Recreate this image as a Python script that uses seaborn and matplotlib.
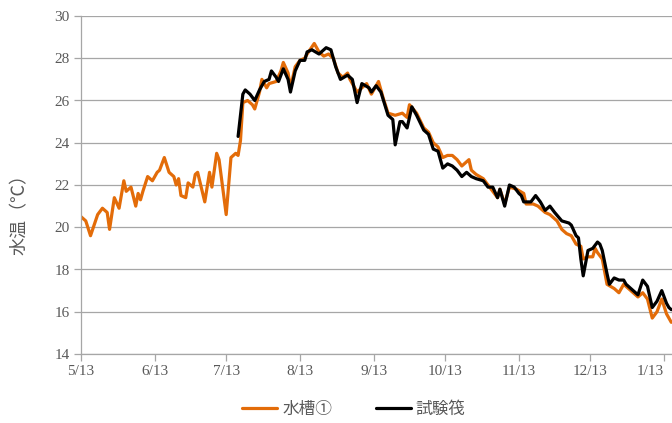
import matplotlib
matplotlib.use("Agg")
import matplotlib.pyplot as plt
import seaborn as sns
import pandas as pd
from matplotlib.lines import Line2D

# Days counted from 5/13
tank_days = [0, 2, 4, 7, 9, 11, 12, 14, 16, 18, 19, 21, 23, 24, 25, 26, 28, 30, 32, 33,
             35, 37, 39, 40, 41, 42, 44, 45, 47, 48, 49, 52, 54, 55, 57, 58, 61, 63, 65, 66,
             67, 68, 70, 72, 73, 75, 76, 78, 79, 82, 84, 85, 87, 88, 90, 92, 94, 95, 98, 100,
             102, 104, 106, 108, 110, 112, 113, 116, 118, 120, 122, 125, 127, 129, 132, 135, 137, 138, 141, 144,
             146, 148, 150, 152, 154, 156, 158, 160, 163, 164, 166, 169, 171, 173, 175, 176, 178, 180, 183, 186,
             187, 190, 192, 195, 197, 200, 202, 204, 206, 208, 210, 211, 213, 215, 216, 217, 219, 221, 224, 226,
             228, 230, 232, 234, 236, 238, 240, 242, 244, 246, 248]
tank_temp = [20.5, 20.3, 19.6, 20.6, 20.9, 20.7, 19.9, 21.4, 20.9, 22.2, 21.7, 21.9, 21.0, 21.6, 21.3, 21.7, 22.4, 22.2, 22.6, 22.7,
             23.3, 22.6, 22.4, 22.0, 22.3, 21.5, 21.4, 22.1, 21.9, 22.5, 22.6, 21.2, 22.6, 21.9, 23.5, 23.2, 20.6, 23.3, 23.5, 23.4,
             24.1, 25.9, 26.0, 25.8, 25.6, 26.4, 27.0, 26.6, 26.8, 26.9, 27.4, 27.8, 27.3, 26.6, 27.6, 27.9, 28.0, 28.2, 28.7, 28.3,
             28.1, 28.2, 28.0, 27.3, 27.1, 27.3, 27.0, 26.4, 26.6, 26.8, 26.3, 26.9, 26.1, 25.4, 25.3, 25.4, 25.2, 25.8, 25.4, 24.7,
             24.5, 24.0, 23.8, 23.3, 23.4, 23.4, 23.2, 22.9, 23.2, 22.7, 22.5, 22.3, 22.0, 21.7, 21.4, 21.8, 21.1, 21.9, 21.8, 21.6,
             21.1, 21.1, 21.0, 20.7, 20.6, 20.3, 19.9, 19.7, 19.6, 19.2, 19.1, 18.5, 18.6, 18.6, 19.0, 18.8, 18.5, 17.3, 17.1, 16.9,
             17.3, 17.1, 16.9, 16.7, 16.9, 16.6, 15.7, 16.0, 16.6, 15.9, 15.5]

raft_days = [66, 68, 69, 71, 73, 75, 77, 79, 80, 82, 83, 85, 87, 88, 90, 92, 94, 95, 97, 100,
             101, 103, 105, 107, 109, 112, 114, 116, 118, 121, 122, 124, 126, 129, 131, 132, 134, 135, 137, 139,
             141, 144, 146, 148, 150, 152, 154, 156, 158, 160, 162, 164, 166, 169, 171, 173, 175, 176, 178, 180,
             182, 184, 185, 186, 189, 191, 193, 195, 197, 199, 202, 205, 206, 208, 209, 210, 211, 213, 215, 217,
             218, 219, 221, 222, 224, 226, 228, 229, 231, 234, 236, 238, 240, 242, 244, 246, 247, 248]
raft_temp = [24.3, 26.3, 26.5, 26.3, 26.0, 26.5, 26.9, 27.0, 27.4, 27.1, 26.9, 27.5, 27.0, 26.4, 27.4, 27.9, 27.9, 28.3, 28.4, 28.2,
             28.3, 28.5, 28.4, 27.6, 27.0, 27.2, 27.0, 25.9, 26.8, 26.6, 26.4, 26.7, 26.4, 25.3, 25.1, 23.9, 25.0, 25.0, 24.7, 25.7,
             25.3, 24.6, 24.4, 23.7, 23.6, 22.8, 23.0, 22.9, 22.7, 22.4, 22.6, 22.4, 22.3, 22.2, 21.9, 21.9, 21.4, 21.8, 21.0, 22.0,
             21.9, 21.6, 21.5, 21.2, 21.2, 21.5, 21.2, 20.8, 21.0, 20.7, 20.3, 20.2, 20.1, 19.6, 19.5, 18.5, 17.7, 18.9, 19.0, 19.3,
             19.2, 18.9, 17.8, 17.3, 17.6, 17.5, 17.5, 17.3, 17.1, 16.8, 17.5, 17.2, 16.2, 16.5, 17.0, 16.4, 16.2, 16.1]

series_names = ["水槽①", "試験筏"]
series_colors = ["#E36C09", "#000000"]
x_tick_days = [0, 31, 61, 92, 123, 153, 184, 214, 245]
x_tick_labels = ["5/13", "6/13", "7/13", "8/13", "9/13", "10/13", "11/13", "12/13", "1/13"]
y_ticks = [14, 16, 18, 20, 22, 24, 26, 28, 30]
y_label = "水温（℃）"

df = pd.concat([
    pd.DataFrame({"day": tank_days, "temp": tank_temp, "series": series_names[0]}),
    pd.DataFrame({"day": raft_days, "temp": raft_temp, "series": series_names[1]}),
], ignore_index=True)

sns.set_theme(style="white")
plt.rcParams["font.family"] = ["Liberation Serif", "Noto Sans CJK JP", "DejaVu Sans"]

fig = plt.figure(figsize=(6.72, 4.23), dpi=100)
ax = fig.add_axes([81 / 672, 1 - 354 / 423, 1 - 81 / 672, (354 - 16) / 423])

sns.lineplot(data=df, x="day", y="temp", hue="series", hue_order=series_names,
             palette=dict(zip(series_names, series_colors)), linewidth=2.3,
             estimator=None, sort=True, legend=False, ax=ax)

ax.set_xlim(0, 248.3)
ax.set_ylim(14, 30)
ax.set_yticks(y_ticks)
ax.set_yticklabels([str(v) for v in y_ticks])
ax.set_xticks(x_tick_days)
ax.set_xticklabels(x_tick_labels)
ax.grid(axis="y", color="#a6a6a6", linewidth=0.9)
ax.grid(axis="x", visible=False)
ax.set_axisbelow(True)
for s in ["top", "right"]:
    ax.spines[s].set_visible(False)
for s in ["left", "bottom"]:
    ax.spines[s].set_color("#a6a6a6")
    ax.spines[s].set_linewidth(0.9)
ax.tick_params(axis="both", which="major", direction="out", length=5, width=0.9,
               color="#a6a6a6", labelcolor="#595959", labelsize=11, pad=3,
               left=True, bottom=True)
last = ax.get_xticklabels()[-1]
last.set_horizontalalignment("right")
last.set_x(248.3)
ax.set_xlabel("")
ax.set_ylabel("")

fig.text(20 / 672, 1 - 210 / 423, y_label, rotation=90, ha="center", va="center",
         fontsize=13, color="#595959", family=["Noto Sans CJK JP", "DejaVu Sans"])

handles = [Line2D([0], [0], color=c, linewidth=2.3) for c in series_colors]
leg = fig.legend(handles, series_names, loc="center", bbox_to_anchor=(354 / 672, 1 - 409 / 423),
                 ncol=2, frameon=False, handlelength=2.1, columnspacing=2.6, handletextpad=0.3,
                 prop={"family": ["Noto Sans CJK JP", "DejaVu Sans"], "size": 12})
for t in leg.get_texts():
    t.set_color("#595959")

fig.savefig("out.png", dpi=100)
